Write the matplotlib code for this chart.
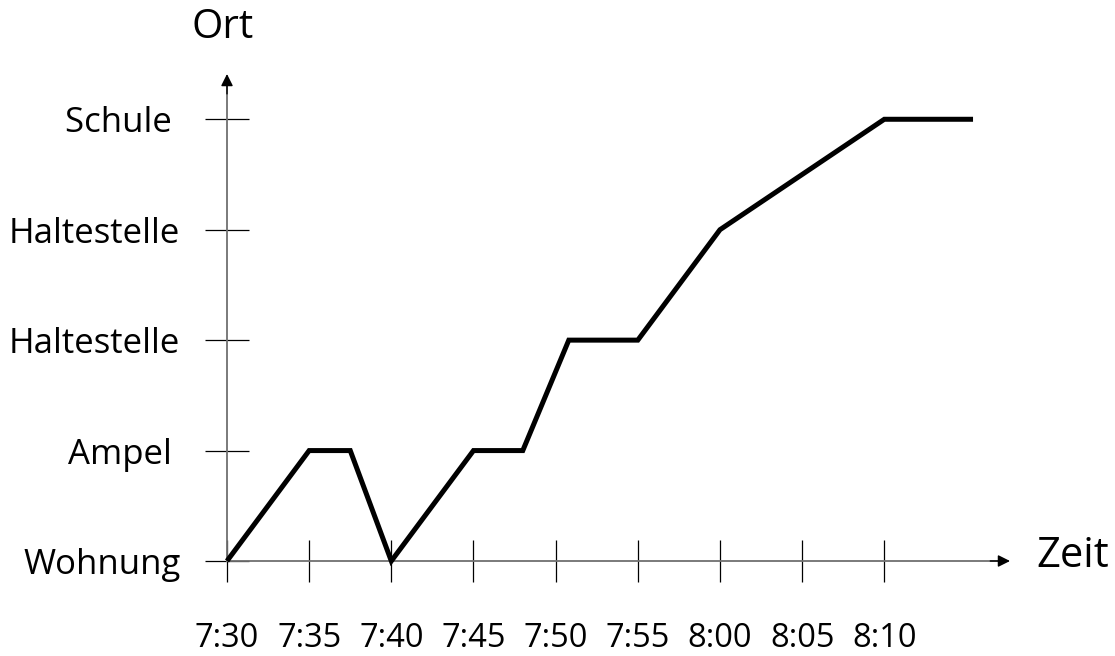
import matplotlib
matplotlib.use('Agg')
import matplotlib.pyplot as plt

plt.rcParams['font.family'] = ['Open Sans', 'DejaVu Sans']

# Minuten nach 7:30 und Ort-Stufe
zeiten = [0, 5, 7.5, 10, 15, 18, 20.8, 25, 30, 40, 45.4]
orte = [0, 1, 1, 0, 1, 1, 2, 2, 3, 4, 4]

x_ticks = [0, 5, 10, 15, 20, 25, 30, 35, 40]
x_labels = ['7:30', '7:35', '7:40', '7:45', '7:50', '7:55', '8:00', '8:05', '8:10']
y_ticks = [0, 1, 2, 3, 4]
y_labels = ['Wohnung', 'Ampel ', 'Haltestelle', 'Haltestelle', 'Schule ']

W, H = 1115, 656
fig = plt.figure(figsize=(W / 100, H / 100), dpi=100)
# axes: pixel 227..1010 horizontal, 561..74 vertical
ax = fig.add_axes([227 / W, (H - 561) / H, (1010 - 227) / W, (561 - 74) / H])
xmax, ymax = 47.65, 4.41
ax.set_xlim(0, xmax)
ax.set_ylim(0, ymax)

for s in ax.spines.values():
    s.set_visible(False)

# Achsen (grau) mit schwarzen Pfeilspitzen
axcol = '#707070'
ax.plot([0, xmax - 0.3], [0, 0], color=axcol, lw=1.3, clip_on=False)
ax.plot([0, 0], [0, ymax - 0.05], color=axcol, lw=1.3, clip_on=False)
ax.annotate('', xy=(xmax, 0), xytext=(xmax - 1.2, 0),
            arrowprops=dict(arrowstyle='-|>', color='black', lw=1.0,
                            mutation_scale=18, shrinkA=0, shrinkB=0),
            annotation_clip=False)
ax.annotate('', xy=(0, ymax), xytext=(0, ymax - 0.18),
            arrowprops=dict(arrowstyle='-|>', color='black', lw=1.0,
                            mutation_scale=18, shrinkA=0, shrinkB=0),
            annotation_clip=False)

ax.plot(zeiten, orte, color='black', lw=3.6, solid_joinstyle='miter',
        solid_capstyle='butt', clip_on=False, zorder=5)

ax.set_xticks(x_ticks)
ax.set_xticklabels(x_labels, fontsize=23.5)
ax.set_yticks(y_ticks)
ax.set_yticklabels(y_labels, fontsize=25)
ax.tick_params(axis='x', direction='inout', length=30, width=0.9, color='black', pad=29)
ax.tick_params(axis='y', direction='inout', length=31, width=0.9, color='black', pad=18)

fig.text(223 / W, 1 - 28 / H, 'Ort', fontsize=29, ha='center', va='center')
fig.text(1036 / W, 1 - 556 / H, 'Zeit', fontsize=30, ha='left', va='center')

fig.savefig('out.png', dpi=100)
